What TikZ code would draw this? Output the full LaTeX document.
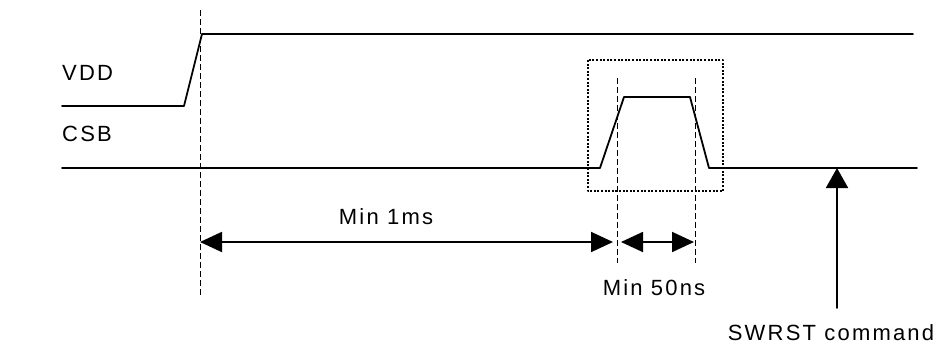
\documentclass[tikz,border=0pt]{standalone}
\usepackage{fontspec}
\setmainfont{Liberation Sans}[LetterSpace=10]
\usetikzlibrary{arrows.meta}

\begin{document}
\begin{tikzpicture}[line cap=round,line join=round,x=1pt,y=-1pt,
  signal/.style={line width=1.8pt},
  guide/.style={line width=1pt,dash pattern=on 6pt off 3pt,line cap=butt},
  window/.style={line width=1.8pt,dash pattern=on 2pt off 1.6pt,line cap=butt},
  span/.style={line width=1.8pt,{Triangle[length=22pt,width=20pt]}-{Triangle[length=22pt,width=20pt]}},
  lbl/.style={font=\fontsize{22}{26}\selectfont,inner sep=0pt}]
\useasboundingbox (0,0) rectangle (943,343);

%signaalit
\draw[signal] (62,106) -- (184,106) -- (202,34) -- (913,34);
\draw[signal] (62,168) -- (600,168) -- (624,97) -- (690,97) -- (709,168) -- (917,168);
\node[lbl,anchor=base west] (vdd) at (62,80) {VDD};
\node[lbl,anchor=base west] (csb) at (62,141) {CSB};

%apuviivat
\draw[guide] (200,10) -- (200,297);
\foreach \x in {617,695}
{
\draw[guide] (\x,78) -- (\x,263);
}
\draw[window] (588,60) rectangle (723,191);

%aikavalit
\coordinate (a1) at (200,242);
\coordinate (a2) at (613,242);
\coordinate (b1) at (621,242);
\coordinate (b2) at (694,242);
\draw[span] (a1) -- (a2);
\draw[span] (b1) -- (b2);
\node[lbl,anchor=base] (tmin) at (386,224) {Min 1ms};
\node[lbl,anchor=base] (tpulse) at (654,295) {Min 50ns};

%komento
\node[lbl,anchor=base] (cmd) at (831,340) {SWRST command};
\coordinate (c1) at (837,308);
\coordinate (c2) at (837,168);
\draw[line width=1.8pt,-{Triangle[length=20pt,width=22pt]}] (c1) -- (c2);
\end{tikzpicture}
\end{document}
